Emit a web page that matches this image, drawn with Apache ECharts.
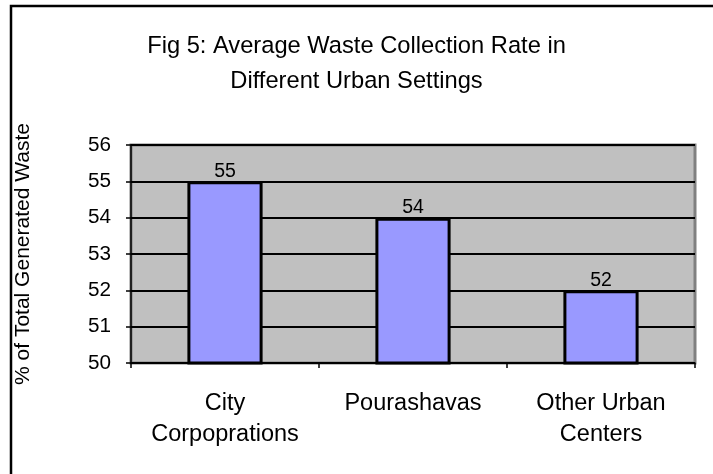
<!DOCTYPE html>
<html>
<head>
<meta charset="utf-8">
<script src="https://cdn.jsdelivr.net/npm/echarts@6/dist/echarts.min.js"></script>
<style>
  html, body { margin: 0; padding: 0; background: #fff; }
  #chart { width: 713px; height: 474px; }
</style>
</head>
<body>
<div id="chart"></div>
<script type="text/javascript">
var categories = ['City\nCorpoprations', 'Pourashavas', 'Other Urban\nCenters'];
var rates = [55, 54, 52];
var yMin = 50, yMax = 56, yStep = 1;

var chart = echarts.init(document.getElementById('chart'));
var font = 'Liberation Sans';

var option = {
    backgroundColor: '#ffffff',
    textStyle: { fontFamily: font },
    title: {
        text: 'Fig 5: Average Waste Collection Rate in\nDifferent Urban Settings',
        left: 'center',
        top: 24,
        textStyle: {
            fontFamily: font,
            fontSize: 23.7,
            fontWeight: 'normal',
            color: '#000',
            lineHeight: 35
        }
    },
    graphic: [{
        type: 'rect',
        shape: { x: 11, y: 6, width: 800, height: 600 },
        style: { fill: 'none', stroke: '#000', lineWidth: 2.5 },
        silent: true
    }],
    grid: {
        left: 131,
        right: 18,
        top: 145,
        bottom: 111,
        show: true,
        backgroundColor: '#c0c0c0',
        borderColor: '#808080',
        borderWidth: 3
    },
    xAxis: {
        type: 'category',
        data: categories,
        axisLine: { lineStyle: { color: '#000', width: 1.5 } },
        axisTick: { show: true, length: 5, lineStyle: { color: '#000', width: 1.5 } },
        axisLabel: {
            color: '#000',
            fontSize: 23.5,
            lineHeight: 31,
            margin: 25,
            interval: 0
        }
    },
    yAxis: {
        type: 'value',
        min: yMin,
        max: yMax,
        interval: yStep,
        name: '% of Total Generated Waste',
        nameLocation: 'middle',
        nameGap: 97,
        nameRotate: 90,
        nameTextStyle: { color: '#000', fontSize: 21, fontFamily: font },
        axisLine: { show: true, lineStyle: { color: '#000', width: 1.5 } },
        axisTick: { show: true, length: 5, lineStyle: { color: '#000', width: 1.5 } },
        axisLabel: { color: '#000', fontSize: 20.7, margin: 20 },
        splitLine: { lineStyle: { color: '#000', width: 2 } }
    },
    series: [{
        type: 'bar',
        data: rates,
        barWidth: '40%',
        itemStyle: { color: '#9999ff', borderColor: '#000', borderWidth: 3 },
        label: {
            show: true,
            position: 'top',
            distance: 0,
            color: '#000',
            fontSize: 19.5,
            fontFamily: font
        }
    }]
};

chart.setOption(option);
</script>
</body>
</html>
